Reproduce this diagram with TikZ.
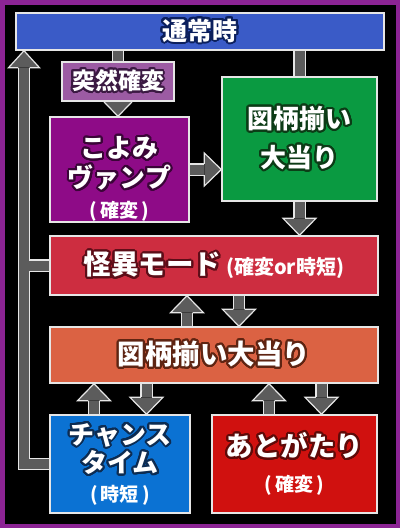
\documentclass[tikz,border=0pt]{standalone}
\usepackage{fontspec}
\newfontfamily\jpfont{Noto Sans CJK JP}
\usepackage{contour}
\contourlength{2pt}
\contournumber{28}
\usetikzlibrary{calc,positioning}
\definecolor{framec}{HTML}{8C2494}
\definecolor{boxline}{HTML}{E6E6E6}
\definecolor{arrgray}{HTML}{5C5C5C}
\definecolor{tsujoc}{HTML}{3A5BC7}\definecolor{tsujod}{HTML}{0B1F5C}
\definecolor{tuzenc}{HTML}{9C5BA3}\definecolor{tuzend}{HTML}{3B1942}
\definecolor{koyomic}{HTML}{8E0B87}\definecolor{koyomid}{HTML}{3A0537}
\definecolor{greenc}{HTML}{0A9A41}\definecolor{greend}{HTML}{0C3B16}
\definecolor{kaiic}{HTML}{CD2D40}\definecolor{kaiid}{HTML}{5C0D18}
\definecolor{zugarac}{HTML}{DB6243}\definecolor{zugarad}{HTML}{5E2412}
\definecolor{chancec}{HTML}{0B72D3}\definecolor{chanced}{HTML}{0D2C52}
\definecolor{atoc}{HTML}{D0110F}\definecolor{atod}{HTML}{5E0A08}
\pgfdeclarelayer{bg}
\pgfdeclarelayer{links}
\pgfsetlayers{bg,links,main}
\newcommand{\jpsize}[2]{\jpfont\bfseries\fontsize{#1}{#2}\selectfont}
% block arrow from #1 to the tip #2
\newcommand{\blockarr}[2]{%
  \coordinate (hb) at ($(#2)!17pt!(#1)$);
  \draw[bar] (#1) -- (hb);
  \filldraw[hd] ($(hb)!5.6pt!90:(#2)$) -- ($(hb)!16.5pt!90:(#2)$) -- (#2)
    -- ($(hb)!16.5pt!-90:(#2)$) -- ($(hb)!5.6pt!-90:(#2)$);
}
\begin{document}
\begin{tikzpicture}[x=1pt, y=-1pt,
  box/.style={draw=boxline, line width=1.4pt, inner sep=0pt, align=center, text=white},
  bar/.style={draw=arrgray, line width=10pt, line join=miter, preaction={draw=boxline, line width=12.4pt, line join=miter}},
  hd/.style={fill=arrgray, draw=boxline, line width=1.2pt, line join=miter}]
  \useasboundingbox (0,0) rectangle (400,528);
  \begin{pgfonlayer}{bg}
    \fill[framec] (0,0) rectangle (400,528);
    \fill[black] (4.5,4.5) rectangle (395.5,523.5);
  \end{pgfonlayer}
  % ---------------------------------------------------------------- boxes
  \node[box, fill=tsujoc, minimum width=368pt, minimum height=37pt, font=\jpsize{25}{30}] (tsujo) at (200,31.5)
    {\contour{tsujod}{通常時}};
  \node[box, fill=tuzenc, minimum width=112pt, minimum height=39pt, font=\jpsize{23}{28}] (tuzen) at (118,81.5)
    {\contour{tuzend}{突然確変}};
  \node[box, fill=koyomic, minimum width=139pt, minimum height=105pt, font=\jpsize{26}{30}] (koyomi) at (119.5,169.5)
    {\rule{0pt}{40pt}\contour{koyomid}{こよみ}\\\contour{koyomid}{ヴァンプ}\\
     {\fontsize{19}{22}\selectfont(\,確変\,)}};
  \node[box, fill=greenc, minimum width=155pt, minimum height=124pt, font=\jpsize{26}{39}] (green) at (299.5,139)
    {\contour{greend}{図柄揃い}\\\contour{greend}{大当り}};
  \node[box, fill=kaiic, minimum width=328pt, minimum height=59pt, font=\jpsize{27.5}{30}] (kaii) at (214,265.5)
    {\contour{kaiid}{怪異モード}\,{\fontsize{20}{22}\selectfont(確変or時短)}};
  \node[box, fill=zugarac, minimum width=328pt, minimum height=56pt, font=\jpsize{27.5}{30}] (zugara) at (214,355)
    {\contour{zugarad}{図柄揃い大当り}};
  \node[box, fill=chancec, minimum width=140pt, minimum height=98pt, font=\jpsize{26}{28.5}] (chance) at (120,464)
    {\contour{chanced}{チャンス}\\\contour{chanced}{タイム}\\
     {\fontsize{19}{22}\selectfont(\,時短\,)}};
  \node[box, fill=atoc, minimum width=165pt, minimum height=98pt, font=\jpsize{27.5}{35}] (ato) at (294.5,464)
    {\contour{atod}{あとがたり}\\{\fontsize{19}{22}\selectfont(\,確変\,)}};
  % ---------------------------------------------------------------- connectors
  \begin{pgfonlayer}{links}
    \draw[bar] (tsujo.south -| tuzen.north) -- (tuzen.north);
    \draw[bar] (tsujo.south -| green.north) -- (green.north);
    \blockarr{tuzen.south}{tuzen.south |- koyomi.north}
    \blockarr{koyomi.east}{koyomi.east -| green.west}
    \blockarr{green.south}{green.south |- kaii.north}
    % kaii <-> zugara
    \coordinate (kz1) at ($(zugara.north)+(-27,0)$);
    \coordinate (kz2) at ($(kaii.south)+(25,0)$);
    \blockarr{kz1}{kz1 |- kaii.south}
    \blockarr{kz2}{kz2 |- zugara.north}
    % zugara <-> chance, ato
    \coordinate (cz1) at ($(chance.north)+(-26,0)$);
    \coordinate (cz2) at ($(zugara.south -| chance.north)+(26.5,0)$);
    \blockarr{cz1}{cz1 |- zugara.south}
    \blockarr{cz2}{cz2 |- chance.north}
    \coordinate (az1) at ($(ato.north)+(-25.5,0)$);
    \coordinate (az2) at ($(zugara.south -| ato.north)+(27,0)$);
    \blockarr{az1}{az1 |- zugara.south}
    \blockarr{az2}{az2 |- ato.north}
    % back to tsujo along the left side
    \coordinate (rail) at (24,0);
    \coordinate (railtip) at (tsujo.south -| rail);
    \coordinate (railhb) at ($(railtip)+(0,17)$);
    \draw[bar] (chance.west) -| (railhb) (kaii.west) -- (kaii.west -| rail);
    \filldraw[hd] ($(railhb)+(-5.6,0)$) -- ($(railhb)+(-15.5,0)$) -- (railtip)
      -- ($(railhb)+(15.5,0)$) -- ($(railhb)+(5.6,0)$);
  \end{pgfonlayer}
\end{tikzpicture}
\end{document}
